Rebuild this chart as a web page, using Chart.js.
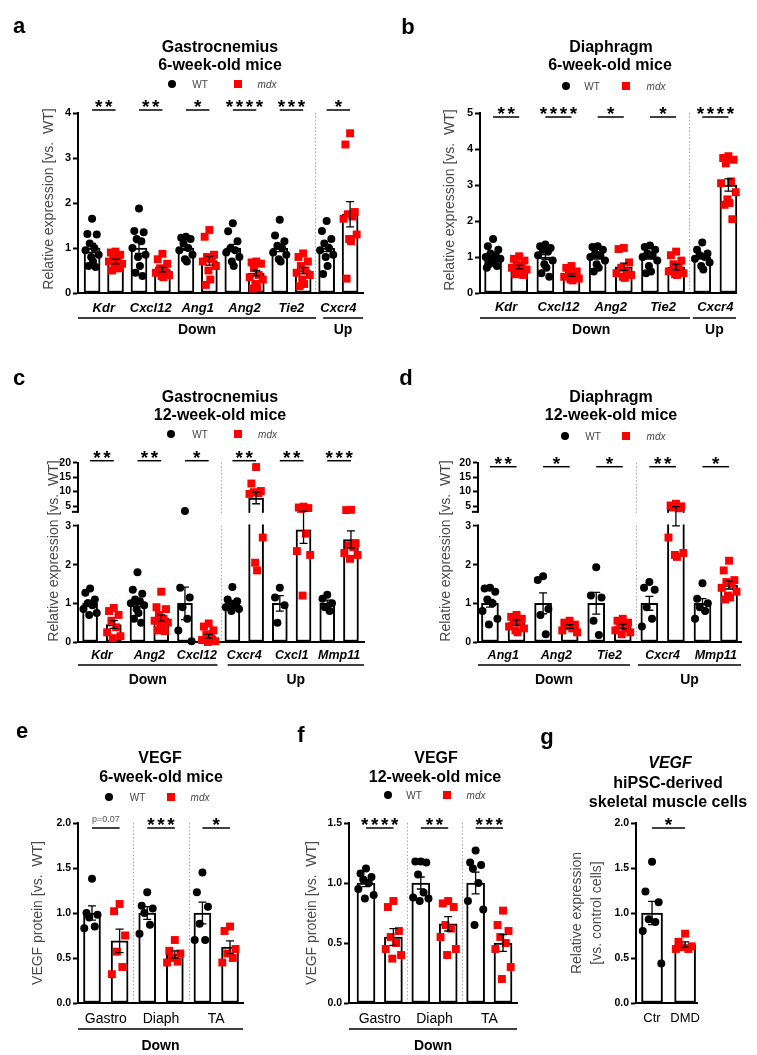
<!DOCTYPE html>
<html>
<head>
<meta charset="utf-8">
<script src="https://cdn.jsdelivr.net/npm/chart.js@4.4.1/dist/chart.umd.min.js"></script>
<style>
  body { margin: 0; background: #fff; width: 757px; height: 1055px; position: relative; overflow: hidden;
         font-family: "Liberation Sans", Arial, sans-serif; }
  canvas { position: absolute; left: 0; top: 0; }
  .t { position: absolute; white-space: nowrap; transform: translate(-50%, -50%); z-index: 5; }
  .dot, .sq { position: absolute; width: 8px; height: 8px; transform: translate(-50%, -50%); z-index: 5; }
  .dot { background: #000; border-radius: 50%; }
  .sq { background: #f00; }
</style>
</head>
<body>
<script>
// ---- a: gastrocnemius, 6-week-old mice
const aGenes = ['Kdr', 'Cxcl12', 'Ang1', 'Ang2', 'Tie2', 'Cxcr4'];
const aStars = ['**', '**', '*', '****', '***', '*'];
const aTicks = [0, 1, 2, 3, 4];
const aWtMean = [1, 1, 1, 1, 1, 1];
const aWtSem = [0.1, 0.12, 0.05, 0.08, 0.08, 0.08];
const aMdxMean = [0.7, 0.52, 0.72, 0.44, 0.5, 1.75];
const aMdxSem = [0.05, 0.05, 0.1, 0.06, 0.07, 0.28];
const aWtPts = [
  [1.65, 1.31, 1.3, 1.1, 1.0, 0.95, 0.85, 0.8, 0.7, 0.6, 0.58],
  [1.88, 1.38, 1.35, 1.2, 1.15, 1.0, 0.85, 0.8, 0.6, 0.45, 0.38],
  [1.25, 1.23, 1.2, 1.1, 1.0, 0.95, 0.85, 0.75, 0.7],
  [1.55, 1.37, 1.15, 1.0, 0.95, 0.9, 0.8, 0.7, 0.6],
  [1.63, 1.28, 1.15, 1.05, 1.0, 0.9, 0.85, 0.75, 0.7],
  [1.6, 1.38, 1.2, 1.1, 1.0, 0.95, 0.85, 0.8, 0.6, 0.42]
];
const aMdxPts = [
  [0.92, 0.9, 0.85, 0.8, 0.75, 0.7, 0.65, 0.6, 0.55, 0.5, 0.55],
  [0.87, 0.75, 0.65, 0.55, 0.5, 0.45, 0.4, 0.38, 0.35, 0.5],
  [1.4, 1.25, 0.85, 0.8, 0.75, 0.7, 0.6, 0.5, 0.3, 0.18],
  [0.7, 0.68, 0.65, 0.55, 0.4, 0.35, 0.3, 0.2, 0.12, 0.1],
  [0.88, 0.8, 0.7, 0.6, 0.5, 0.45, 0.4, 0.3, 0.2, 0.15],
  [3.55, 3.3, 1.8, 1.75, 1.7, 1.65, 1.3, 1.2, 1.15, 0.32]
];

// ---- b: diaphragm, 6-week-old mice
const bGenes = ['Kdr', 'Cxcl12', 'Ang2', 'Tie2', 'Cxcr4'];
const bStars = ['**', '****', '*', '*', '****'];
const bTicks = [0, 1, 2, 3, 4, 5];
const bWtMean = [1, 1, 1, 1, 1];
const bWtSem = [0.05, 0.07, 0.06, 0.06, 0.05];
const bMdxMean = [0.72, 0.5, 0.73, 0.72, 3.0];
const bMdxSem = [0.05, 0.04, 0.1, 0.08, 0.17];
const bWtPts = [
  [1.5, 1.3, 1.2, 1.1, 1.05, 1.0, 0.95, 0.9, 0.85, 0.8, 0.75, 0.7],
  [1.35, 1.3, 1.25, 1.2, 1.15, 1.05, 0.9, 0.8, 0.7, 0.55, 0.45],
  [1.3, 1.28, 1.2, 1.1, 1.05, 1.0, 0.9, 0.8, 0.7, 0.6],
  [1.32, 1.28, 1.2, 1.1, 1.05, 1.0, 0.9, 0.75, 0.6, 0.55],
  [1.4, 1.2, 1.1, 1.05, 1.0, 0.95, 0.85, 0.75, 0.65]
];
const bMdxPts = [
  [1.02, 0.95, 0.9, 0.8, 0.75, 0.7, 0.65, 0.6, 0.55, 0.52, 0.5],
  [0.75, 0.7, 0.6, 0.55, 0.5, 0.45, 0.4, 0.38, 0.35],
  [1.25, 1.22, 0.85, 0.7, 0.6, 0.55, 0.5, 0.45, 0.42],
  [1.15, 1.05, 0.9, 0.8, 0.7, 0.6, 0.55, 0.52, 0.5],
  [3.8, 3.75, 3.7, 3.6, 3.1, 3.05, 2.8, 2.6, 2.5, 2.45, 2.05]
];

// ---- c: gastrocnemius, 12-week-old mice (broken axis)
const cGenes = ['Kdr', 'Ang2', 'Cxcl12', 'Cxcr4', 'Cxcl1', 'Mmp11'];
const cStars = ['**', '**', '*', '**', '**', '***'];
const brokenTicks = [0, 1, 2, 3, 5, 10, 15, 20];
const cWtMean = [1, 1, 1, 1, 1, 1];
const cWtSem = [0.08, 0.08, 0.42, 0.06, 0.2, 0.08];
const cMdxMean = [0.45, 0.62, 0.15, 7.8, 2.9, 2.65];
const cMdxSem = [0.1, 0.08, 0.05, 2.0, 0.35, 0.22];
const cWtPts = [
  [1.38, 1.27, 1.1, 1.0, 0.95, 0.85, 0.75, 0.7],
  [1.8, 1.35, 1.25, 1.1, 1.05, 1.0, 0.95, 0.85, 0.75, 0.6, 0.5],
  [3.3, 1.4, 1.15, 0.9, 0.6, 0.3, 0.02],
  [1.42, 1.1, 1.05, 1.0, 0.95, 0.9, 0.85, 0.8],
  [1.4, 1.15, 0.95, 0.5],
  [1.22, 1.12, 1.0, 0.9, 0.8]
];
const cMdxPts = [
  [0.88, 0.8, 0.7, 0.55, 0.38, 0.25, 0.15, 0.1],
  [1.3, 0.9, 0.85, 0.7, 0.6, 0.55, 0.5, 0.45, 0.35, 0.3, 0.28],
  [0.48, 0.4, 0.3, 0.2, 0.1, 0.05, 0.02, 0.0],
  [18.5, 12.8, 10.2, 9.8, 9.5, 9.2, 2.7, 2.05, 1.85],
  [4.8, 4.5, 4.3, 4.0, 2.8, 2.35, 2.25, 1.2],
  [3.7, 3.6, 2.55, 2.5, 2.45, 2.3, 2.25, 2.15]
];

// ---- d: diaphragm, 12-week-old mice (broken axis)
const dGenes = ['Ang1', 'Ang2', 'Tie2', 'Cxcr4', 'Mmp11'];
const dStars = ['**', '*', '*', '**', '*'];
const dWtMean = [1, 1, 1, 1, 1];
const dWtSem = [0.1, 0.27, 0.28, 0.18, 0.12];
const dMdxMean = [0.5, 0.4, 0.4, 3.9, 1.47];
const dMdxSem = [0.07, 0.05, 0.06, 0.9, 0.1];
const dWtPts = [
  [1.4, 1.38, 1.3, 1.1, 1.0, 0.8, 0.6, 0.45],
  [1.7, 1.6, 0.85, 0.7, 0.2],
  [1.93, 1.2, 1.15, 0.55, 0.18],
  [1.55, 1.4, 1.35, 0.9, 0.6, 0.4],
  [1.52, 1.12, 1.0, 0.9, 0.8, 0.6]
];
const dMdxPts = [
  [0.7, 0.65, 0.6, 0.55, 0.5, 0.4, 0.35, 0.3, 0.25],
  [0.55, 0.5, 0.45, 0.4, 0.35, 0.3, 0.25],
  [0.6, 0.55, 0.5, 0.45, 0.35, 0.3, 0.25, 0.2],
  [5.8, 5.2, 4.9, 4.5, 4.2, 2.7, 2.3, 2.25, 2.2],
  [2.1, 1.85, 1.6, 1.55, 1.5, 1.4, 1.3, 1.2, 1.15, 1.1]
];

// ---- e / f: VEGF protein
const tissues = ['Gastro', 'Diaph', 'TA'];
const eStars = ['p=0.07', '***', '*'];
const eTicks = [0, 0.5, 1, 1.5, 2];
const eWtMean = [1, 1, 1];
const eWtSem = [0.08, 0.07, 0.12];
const eMdxMean = [0.69, 0.54, 0.62];
const eMdxSem = [0.13, 0.04, 0.07];
const eWtPts = [[1.38, 1.0, 0.98, 0.95, 0.85, 0.83], [1.23, 1.08, 1.05, 1.0, 0.87, 0.77], [1.45, 1.23, 1.07, 0.88, 0.7, 0.7]];
const eMdxPts = [[1.1, 1.02, 0.75, 0.57, 0.4, 0.32], [0.7, 0.58, 0.55, 0.5, 0.46, 0.45], [0.85, 0.8, 0.6, 0.55, 0.5, 0.45]];

const fStars = ['****', '**', '***'];
const fTicks = [0, 0.5, 1, 1.5];
const fWtMean = [1, 1, 1];
const fWtSem = [0.03, 0.05, 0.09];
const fMdxMean = [0.55, 0.66, 0.5];
const fMdxSem = [0.07, 0.06, 0.07];
const fWtPts = [[1.12, 1.08, 1.05, 1.03, 1.0, 0.95, 0.9, 0.87], [1.18, 1.18, 1.17, 1.07, 0.92, 0.88, 0.87, 0.85], [1.27, 1.17, 1.15, 1.12, 1.0, 0.85, 0.78, 0.65]];
const fMdxPts = [[0.85, 0.8, 0.6, 0.55, 0.5, 0.45, 0.4, 0.37], [0.85, 0.83, 0.8, 0.65, 0.62, 0.55, 0.45, 0.4], [0.77, 0.65, 0.6, 0.55, 0.5, 0.45, 0.3, 0.2]];

// ---- g: hiPSC-derived cells
const gLabels = ['Ctr', 'DMD'];
const gStars = ['*'];
const gMean = [1.0, 0.65];
const gSem = [0.13, 0.03];
const gCtrPts = [1.57, 1.24, 1.12, 0.93, 0.9, 0.8, 0.44];
const gDmdPts = [0.77, 0.68, 0.63, 0.62, 0.6, 0.6];

const FONT = '"Liberation Sans", Arial, sans-serif';
const JIT = [0, -0.2, 0.2, -0.1, 0.1, -0.28, 0.28, -0.04, 0.04, -0.15, 0.15, -0.24, 0.24];
// broken axis: 0-3 linear, then 3-20 compressed
const BRK = 3.364, BRK_K = 0.0747;
const brk = v => v <= 3 ? v : BRK + (v - 3) * BRK_K;
const same = v => v;

function pairLabels(names) {
  return names.map((n, g) => ({ text: n, at: 2 * g + 0.5 }));
}

const panels = [
  { groups: aGenes, stars: aStars, wtMean: aWtMean, wtSem: aWtSem, mdxMean: aMdxMean, mdxSem: aMdxSem,
    wtPts: aWtPts, mdxPts: aMdxPts, ticks: aTicks, tickText: aTicks.map(String),
    L: 78, R: 363, T: 113, B: 293, xMin: -0.6, xMax: 11.55, barW: 16, tickSize: 11, sigDy: -3, sep: [9.5],
    labels: pairLabels(aGenes), labelY: 308, labelFont: 'italic bold 13px ' + FONT,
    groupY: 318, groupLabelY: 330, groupDefs: [{ text: 'Down', from: -0.6, to: 9.55 }, { text: 'Up', from: 9.85, to: 11.55 }],
    yTitle: ['Relative expression [vs.  WT]'], yTitleX: 49, yTitleY: 199 },
  { groups: bGenes, stars: bStars, wtMean: bWtMean, wtSem: bWtSem, mdxMean: bMdxMean, mdxSem: bMdxSem,
    wtPts: bWtPts, mdxPts: bMdxPts, ticks: bTicks, tickText: bTicks.map(String),
    L: 480, R: 736, T: 113, B: 293, xMin: -0.5, xMax: 9.29, barW: 17, tickSize: 11, sigDy: 4, sep: [7.5],
    labels: pairLabels(bGenes), labelY: 307, labelFont: 'italic bold 13px ' + FONT,
    groupY: 318, groupLabelY: 330, groupDefs: [{ text: 'Down', from: -0.5, to: 7.53, at: 3.75 }, { text: 'Up', from: 7.64, to: 9.29 }],
    yTitle: ['Relative expression [vs.  WT]'], yTitleX: 450, yTitleY: 200 },
  { groups: cGenes, stars: cStars, wtMean: cWtMean, wtSem: cWtSem, mdxMean: cMdxMean, mdxSem: cMdxSem,
    wtPts: cWtPts, mdxPts: cMdxPts, ticks: brokenTicks, tickText: brokenTicks.map(String), broken: true,
    L: 78, R: 364, T: 462.7, B: 642, xMin: -0.51, xMax: 11.55, barW: 15, tickSize: 10.5, sigDy: -2, sep: [5.5],
    labels: pairLabels(cGenes), labelY: 656, labelFont: 'italic bold 12.5px ' + FONT,
    groupY: 665, groupLabelY: 680, groupDefs: [{ text: 'Down', from: -0.51, to: 5.37 }, { text: 'Up', from: 5.8, to: 11.55 }],
    yTitle: ['Relative expression [vs.  WT]'], yTitleX: 54, yTitleY: 551 },
  { groups: dGenes, stars: dStars, wtMean: dWtMean, wtSem: dWtSem, mdxMean: dMdxMean, mdxSem: dMdxSem,
    wtPts: dWtPts, mdxPts: dMdxPts, ticks: brokenTicks, tickText: brokenTicks.map(String), broken: true,
    L: 478, R: 741, T: 462.7, B: 642, xMin: -0.45, xMax: 9.45, barW: 17, tickSize: 10.5, sigDy: 4, sep: [5.5],
    labels: pairLabels(dGenes), labelY: 656, labelFont: 'italic bold 12.5px ' + FONT,
    groupY: 665, groupLabelY: 680, groupDefs: [{ text: 'Down', from: -0.45, to: 5.27 }, { text: 'Up', from: 5.57, to: 9.45 }],
    yTitle: ['Relative expression [vs.  WT]'], yTitleX: 446, yTitleY: 551 },
  { groups: tissues, stars: eStars, wtMean: eWtMean, wtSem: eWtSem, mdxMean: eMdxMean, mdxSem: eMdxSem,
    wtPts: eWtPts, mdxPts: eMdxPts, ticks: eTicks, tickText: eTicks.map(v => v.toFixed(1)),
    L: 78, R: 243, T: 823, B: 1003, xMin: -0.507, xMax: 5.47, barW: 17, tickSize: 10.5, sigDy: 5, sep: [1.5, 3.5],
    labels: pairLabels(tissues), labelY: 1019, labelFont: '14px ' + FONT,
    groupY: 1029, groupLabelY: 1046, groupDefs: [{ text: 'Down', from: -0.507, to: 5.47 }],
    yTitle: ['VEGF protein [vs.  WT]'], yTitleX: 38, yTitleY: 913 },
  { groups: tissues, stars: fStars, wtMean: fWtMean, wtSem: fWtSem, mdxMean: fMdxMean, mdxSem: fMdxSem,
    wtPts: fWtPts, mdxPts: fMdxPts, ticks: fTicks, tickText: fTicks.map(v => v.toFixed(1)),
    L: 349, R: 517, T: 823, B: 1003, xMin: -0.62, xMax: 5.51, barW: 18, tickSize: 10.5, sigDy: 5, sep: [1.5, 3.5],
    labels: pairLabels(tissues), labelY: 1019, labelFont: '14px ' + FONT,
    groupY: 1029, groupLabelY: 1046, groupDefs: [{ text: 'Down', from: -0.62, to: 5.51 }],
    yTitle: ['VEGF protein [vs.  WT]'], yTitleX: 312, yTitleY: 913 },
  { groups: gStars, stars: gStars, wtMean: [gMean[0]], wtSem: [gSem[0]], mdxMean: [gMean[1]], mdxSem: [gSem[1]],
    wtPts: [gCtrPts], mdxPts: [gDmdPts], ticks: eTicks, tickText: eTicks.map(v => v.toFixed(1)),
    L: 636, R: 697, T: 823, B: 1003, xMin: -0.485, xMax: 1.36, barW: 21, tickSize: 10.5, sigDy: 5, sep: [],
    labels: gLabels.map((n, i) => ({ text: n, at: i })), labelY: 1018, labelFont: '13px ' + FONT,
    groupDefs: [],
    yTitle: ['Relative expression', '[vs. control cells]'], yTitleX: 587, yTitleY: 913 }
];

function extras(p, ty) {
  return {
    id: 'extras',
    beforeDatasetsDraw(chart) {
      const { ctx, chartArea: ca, scales: { x } } = chart;
      ctx.save();
      ctx.strokeStyle = '#a8a8a8';
      ctx.lineWidth = 1;
      ctx.setLineDash([1.5, 2]);
      p.sep.forEach(s => {
        const px = Math.round(x.getPixelForValue(s)) + 0.5;
        ctx.beginPath();
        ctx.moveTo(px, ca.top);
        ctx.lineTo(px, ca.bottom - 1);
        ctx.stroke();
      });
      ctx.restore();
    },
    afterDatasetDraw(chart, args) {
      // open the bars across the axis break
      if (!p.broken || args.meta.type !== 'bar') return;
      const { ctx, chartArea: ca, scales: { y } } = chart;
      const y3 = y.getPixelForValue(3), yb = y.getPixelForValue(BRK);
      ctx.save();
      ctx.fillStyle = '#fff';
      ctx.fillRect(ca.left - 4, yb + 1, ca.right - ca.left + 4, y3 - yb - 2.5);
      ctx.restore();
    },
    afterDatasetsDraw(chart) {
      const { ctx, scales: { x, y } } = chart;
      ctx.save();
      ctx.strokeStyle = '#000';
      ctx.lineWidth = 1.3;
      const err = (xv, m, s) => {
        const px = x.getPixelForValue(xv);
        const yt = y.getPixelForValue(ty(m + s)), yb = y.getPixelForValue(ty(Math.max(0, m - s)));
        ctx.beginPath();
        ctx.moveTo(px, yt); ctx.lineTo(px, yb);
        ctx.moveTo(px - 4, yt); ctx.lineTo(px + 4, yt);
        ctx.moveTo(px - 4, yb); ctx.lineTo(px + 4, yb);
        ctx.stroke();
      };
      p.wtMean.forEach((m, g) => {
        err(2 * g, m, p.wtSem[g]);
        err(2 * g + 1, p.mdxMean[g], p.mdxSem[g]);
      });
      ctx.restore();
    },
    afterDraw(chart) {
      const { ctx, chartArea: ca, scales: { x, y } } = chart;
      ctx.save();
      ctx.strokeStyle = '#000';
      ctx.fillStyle = '#000';
      if (p.broken) {
        const yb = y.getPixelForValue(BRK);
        ctx.lineWidth = 2;
        ctx.beginPath();
        ctx.moveTo(ca.left - 6, yb); ctx.lineTo(ca.left, yb);
        ctx.stroke();
      }
      // significance bars
      const sy = ca.top + p.sigDy;
      p.stars.forEach((st, g) => {
        const x1 = x.getPixelForValue(2 * g), x2 = x.getPixelForValue(2 * g + 1), mid = (x1 + x2) / 2;
        ctx.lineWidth = 1.5;
        ctx.beginPath();
        ctx.moveTo(x1, sy); ctx.lineTo(x2, sy);
        ctx.stroke();
        ctx.textAlign = 'center';
        ctx.textBaseline = 'alphabetic';
        if (st.startsWith('p')) {
          ctx.font = '9px ' + FONT;
          ctx.fillStyle = '#555';
          ctx.fillText(st, mid, sy - 6);
          ctx.fillStyle = '#000';
        } else {
          ctx.font = 'bold 19px ' + FONT;
          const step = 10;
          for (let i = 0; i < st.length; i++) {
            ctx.fillText('*', mid + (i - (st.length - 1) / 2) * step, sy + 3);
          }
        }
      });
      // category labels
      ctx.font = p.labelFont;
      ctx.textBaseline = 'middle';
      ctx.textAlign = 'center';
      p.labels.forEach(l => ctx.fillText(l.text, x.getPixelForValue(l.at), p.labelY));
      // Down / Up groups
      p.groupDefs.forEach(gd => {
        const x1 = x.getPixelForValue(gd.from), x2 = x.getPixelForValue(gd.to);
        ctx.lineWidth = 1.5;
        ctx.beginPath();
        ctx.moveTo(x1, p.groupY); ctx.lineTo(x2, p.groupY);
        ctx.stroke();
        ctx.font = 'bold 14px ' + FONT;
        const lx = gd.at !== undefined ? x.getPixelForValue(gd.at) : (x1 + x2) / 2;
        ctx.fillText(gd.text, lx, p.groupLabelY);
      });
      // y axis title
      ctx.translate(p.yTitleX, p.yTitleY);
      ctx.rotate(-Math.PI / 2);
      ctx.font = '14px ' + FONT;
      ctx.fillStyle = '#4a4a4a';
      p.yTitle.forEach((line, i) => ctx.fillText(line, 0, (i - (p.yTitle.length - 1) / 2) * 20));
      ctx.restore();
    }
  };
}

function drawPanel(p) {
  const cv = document.createElement('canvas');
  cv.width = 757;
  cv.height = 1055;
  document.body.appendChild(cv);
  const ty = p.broken ? brk : same;
  const bars = [], dots = [], squares = [];
  p.wtMean.forEach((m, g) => {
    bars.push({ x: 2 * g, y: ty(m) });
    bars.push({ x: 2 * g + 1, y: ty(p.mdxMean[g]) });
    p.wtPts[g].forEach((v, i) => dots.push({ x: 2 * g + JIT[i % JIT.length], y: ty(v) }));
    p.mdxPts[g].forEach((v, i) => squares.push({ x: 2 * g + 1 + JIT[i % JIT.length], y: ty(v) }));
  });
  new Chart(cv, {
    type: 'bar',
    data: {
      datasets: [
        { type: 'bar', data: bars, backgroundColor: '#fff', borderColor: '#000', borderWidth: 2,
          borderSkipped: false, barThickness: p.barW, order: 3, clip: false },
        { type: 'scatter', data: dots, pointStyle: 'circle', pointRadius: 4, backgroundColor: '#000',
          borderColor: '#000', borderWidth: 0, order: 2, clip: false },
        { type: 'scatter', data: squares, pointStyle: 'rect', pointRadius: 5.6, backgroundColor: '#ff0000',
          borderColor: '#ff0000', borderWidth: 0, order: 1, clip: false }
      ]
    },
    options: {
      responsive: false,
      animation: false,
      devicePixelRatio: 1,
      events: [],
      layout: { padding: { left: p.L - 40, right: 757 - p.R, top: p.T, bottom: 1055 - p.B } },
      plugins: { legend: { display: false }, tooltip: { enabled: false } },
      scales: {
        x: {
          type: 'linear', min: p.xMin, max: p.xMax, offset: false,
          ticks: { display: false },
          grid: { display: false },
          border: { color: '#000', width: 2 },
          afterFit: s => { s.height = 0; }
        },
        y: {
          type: 'linear', min: 0, max: ty(p.ticks[p.ticks.length - 1]),
          afterFit: s => { s.width = 40; },
          afterBuildTicks: s => { s.ticks = p.ticks.map(t => ({ value: ty(t) })); },
          ticks: {
            autoSkip: false, padding: 2, color: '#000',
            font: { family: FONT, size: p.tickSize, weight: 'bold' },
            callback: (v, i) => p.tickText[i]
          },
          grid: { drawOnChartArea: false, tickLength: 5, tickWidth: 2, tickColor: '#000' },
          border: { color: '#000', width: 2 }
        }
      }
    },
    plugins: [extras(p, ty)]
  });
}

panels.forEach(drawPanel);

// titles, panel letters and legends
function txt(x, y, s, css) {
  const d = document.createElement('div');
  d.className = 't';
  d.style.left = x + 'px';
  d.style.top = y + 'px';
  d.style.cssText += css;
  d.innerHTML = s;
  document.body.appendChild(d);
}
function mark(cls, x, y) {
  const d = document.createElement('div');
  d.className = cls;
  d.style.left = x + 'px';
  d.style.top = y + 'px';
  document.body.appendChild(d);
}
const letterCss = 'font-weight:bold;font-size:22px;';
const titleCss = 'font-weight:bold;font-size:16px;';
const legCss = 'font-size:10px;color:#444;';

txt(19, 26, 'a', letterCss);
txt(408, 27, 'b', letterCss);
txt(19, 378, 'c', letterCss);
txt(406, 378, 'd', letterCss);
txt(22, 731, 'e', letterCss);
txt(301, 735, 'f', letterCss);
txt(547, 737, 'g', letterCss);

txt(220, 47, 'Gastrocnemius', titleCss);
txt(220, 65, '6-week-old mice', titleCss);
txt(611, 47, 'Diaphragm', titleCss);
txt(610, 65, '6-week-old mice', titleCss);
txt(220, 397, 'Gastrocnemius', titleCss);
txt(220, 415, '12-week-old mice', titleCss);
txt(611, 397, 'Diaphragm', titleCss);
txt(611, 415, '12-week-old mice', titleCss);
txt(160, 758, 'VEGF', titleCss);
txt(161, 777, '6-week-old mice', titleCss);
txt(436, 758, 'VEGF', titleCss);
txt(435, 777, '12-week-old mice', titleCss);
txt(670, 763, '<i>VEGF</i>', titleCss);
txt(668, 783, 'hiPSC-derived', titleCss);
txt(668, 802, 'skeletal muscle cells', titleCss);

const legends = [[172, 84, 200, 238, 267], [565.5, 86, 592, 626, 656], [171, 434, 200, 238, 267.5],
                 [565, 436, 593, 625.5, 656], [109, 797, 137.5, 170.5, 200], [387.5, 795, 414, 446.5, 476]];
legends.forEach(([cx, y, wx, sx, mx]) => {
  mark('dot', cx, y);
  txt(wx, y, 'WT', legCss);
  mark('sq', sx, y);
  txt(mx, y, '<i>mdx</i>', legCss);
});
</script>
</body>
</html>
